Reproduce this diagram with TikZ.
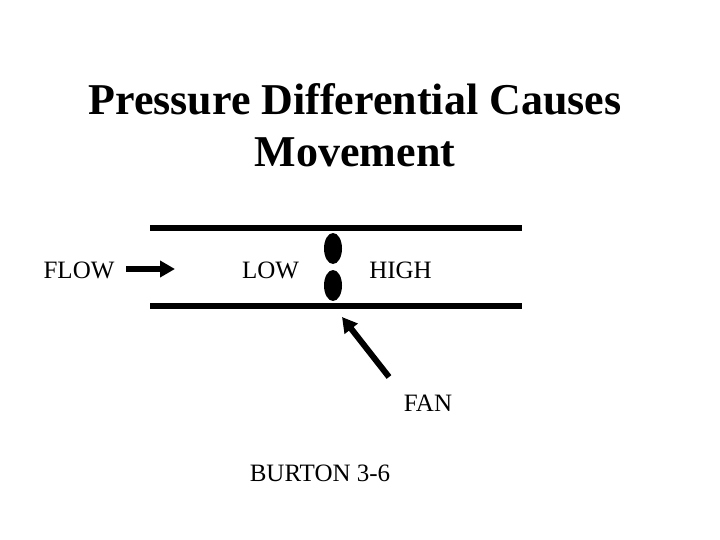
\documentclass[tikz,border=0pt]{standalone}
\usepackage{fontspec}
\setmainfont{Liberation Serif}
\usetikzlibrary{arrows.meta,shapes.geometric}

\begin{document}
\begin{tikzpicture}[x=1pt,y=-1pt,
  title/.style={font=\fontsize{44}{52}\selectfont\bfseries,align=center,inner sep=0pt},
  label/.style={font=\fontsize{25}{30}\selectfont,inner sep=0pt},
  wall/.style={line width=6pt},
  damper/.style={draw=none,fill=black,ellipse,minimum width=18pt,minimum height=31pt,inner sep=0pt},
  arr/.style={-{Triangle[length=15pt,width=16pt]},line width=6pt}]
\useasboundingbox (0,0) rectangle (720,540);
\node[title] (T) at (355,125) {Pressure Differential Causes\\ Movement};
\node[label] (F) at (79,270) {FLOW};
\node[label] (L) at (270.5,270) {LOW};
\node[label] (H) at (400.5,270) {HIGH};
\node[label] (N) at (428,403) {FAN};
\node[label] (B) at (320,473) {BURTON 3-6};
\node[damper] (D1) at (333,248.5) {};
\node[damper] (D2) at (333,285.5) {};
\coordinate (W1) at (150,228);
\coordinate (W2) at (522,228);
\coordinate (W3) at (150,305.5);
\coordinate (W4) at (522,305.5);
\coordinate (A1) at (126,269);
\coordinate (A2) at (175,269);
\coordinate (A3) at (389,377);
\coordinate (A4) at (342,317);
\draw[wall] (W1) -- (W2);
\draw[wall] (W3) -- (W4);
\draw[arr] (A1) -- (A2);
\draw[arr] (A3) -- (A4);
\end{tikzpicture}
\end{document}
